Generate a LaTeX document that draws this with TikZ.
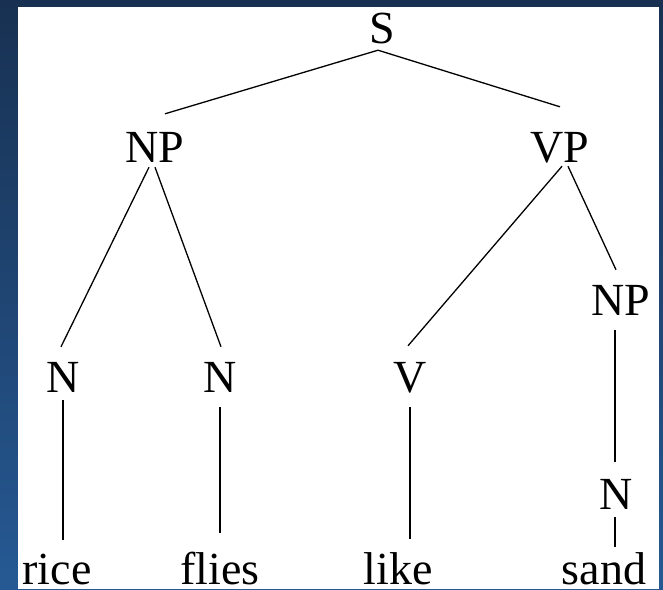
\documentclass[tikz,border=0pt]{standalone}
\usepackage{fontspec}
\setmainfont{Liberation Serif}
\usetikzlibrary{positioning}
\definecolor{slidetop}{RGB}{24,49,82}
\definecolor{slidebottom}{RGB}{38,89,147}

\begin{document}
\begin{tikzpicture}[x=1pt, y=1pt,
    cat/.style={anchor=base, inner sep=0pt, text height=31pt, text depth=0pt,
      font=\fontsize{46}{50}\selectfont},
    branch/.style={line width=1.3pt, black}]
  % slide background
  \shade[top color=slidetop, bottom color=slidebottom] (0,0) rectangle (663,-589);
  \fill[white] (18,-7) rectangle (659,-589);

  % phrase labels
  \node[cat] (S) at (382,-43) {S};
  \node[cat] (NP) at (155,-162) {NP};
  \node[cat] (VP) at (560,-162) {VP};
  \node[cat] (NPb) at (621,-315) {NP};
  \node[cat] (Na) at (63,-392) {N};
  \node[cat] (Nb) at (220,-392) {N};
  \node[cat] (V) at (410,-392) {V};
  \node[cat] (Nc) at (616,-509) {N};

  % words
  \node[cat] (rice) at (57,-584) {rice};
  \node[cat] (flies) at (220,-584) {flies};
  \node[cat] (like) at (398,-584) {like};
  \node[cat] (sand) at (604,-584) {sand};

  % branches
  \draw[branch] ([xshift=-4pt, yshift=-7pt]S.south) -- ([xshift=10pt, yshift=17pt]NP.north);
  \draw[branch] ([xshift=-4pt, yshift=-7pt]S.south) -- ([yshift=24pt]VP.north);
  \draw[branch] ([xshift=-6pt, yshift=-5pt]NP.south) -- ([xshift=-2pt, yshift=14pt]Na.north);
  \draw[branch] ([yshift=-5pt]NP.south) -- ([xshift=1pt, yshift=14pt]Nb.north);
  \draw[branch] ([xshift=2pt, yshift=-4pt]VP.south) -- ([xshift=-2pt, yshift=15pt]V.north);
  \draw[branch] ([xshift=8pt, yshift=-4pt]VP.south) -- ([xshift=-5pt, yshift=14pt]NPb.north);
  \draw[branch, shorten <=8pt, shorten >=13pt] (Na.south) -- (Na.south |- rice.north);
  \draw[branch, shorten <=15pt, shorten >=20pt] (Nb.south) -- (Nb.south |- flies.north);
  \draw[branch, shorten <=15pt, shorten >=14pt] (V.south) -- (V.south |- like.north);
  \draw[branch, shorten <=15pt, shorten >=16pt] ([xshift=-6pt]NPb.south) -- ([xshift=-1pt]Nc.north);
  \draw[branch, shorten <=8pt, shorten >=6pt] ([xshift=-1pt]Nc.south) -- ([xshift=-1pt]Nc.south |- sand.north);
\end{tikzpicture}
\end{document}
